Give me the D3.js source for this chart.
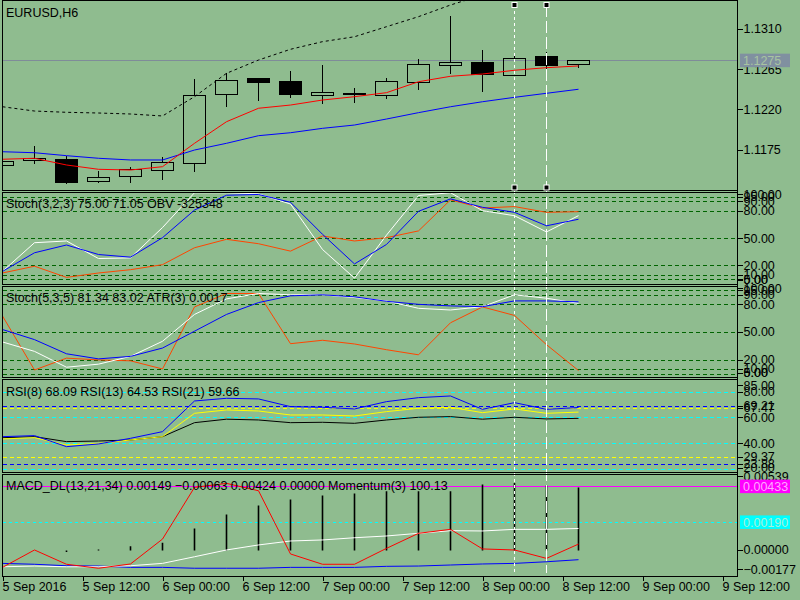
<!DOCTYPE html>
<html>
<head>
<meta charset="utf-8">
<title>EURUSD,H6</title>
<script src="https://d3js.org/d3.v7.min.js"></script>
<style>
  body { margin: 0; background: #8fbc8f; }
  svg { display: block; }
  text { font-family: "Liberation Sans", Arial, sans-serif; font-size: 12.5px; fill: #000; }
</style>
</head>
<body>
<div id="chart"></div>
<script>
// ---- bars ----
var opens  = [1.11578,1.11636,1.11650,1.11400,1.11460,1.11522,1.11605,1.12375,1.12546,1.12523,1.12364,1.12389,1.12359,1.12509,1.12698,1.12735,1.12582,1.12791,1.12710];
var highs  = [1.11630,1.11798,1.11690,1.11522,1.11567,1.11679,1.12546,1.12609,1.12550,1.12635,1.12702,1.12442,1.12557,1.12769,1.13248,1.12869,1.12802,1.12850,1.12757];
var lows   = [1.11570,1.11592,1.11374,1.11389,1.11389,1.11419,1.11511,1.12236,1.12303,1.12337,1.12263,1.12274,1.12326,1.12423,1.12601,1.12404,1.12575,1.12627,1.12672];
var closes = [1.11623,1.11656,1.11389,1.11449,1.11538,1.11616,1.12364,1.12531,1.12509,1.12370,1.12397,1.12367,1.12520,1.12710,1.12735,1.12593,1.12776,1.12694,1.12748];

// main window lines
var maFast   = [1.11650,1.11661,1.11586,1.11538,1.11530,1.11567,1.11828,1.12069,1.12219,1.12255,1.12311,1.12348,1.12393,1.12515,1.12576,1.12601,1.12643,1.12672,1.12691];
var maSlow   = [1.11734,1.11723,1.11690,1.11661,1.11642,1.11642,1.11753,1.11828,1.11913,1.11946,1.11995,1.12032,1.12099,1.12170,1.12236,1.12292,1.12341,1.12386,1.12431];
var envUpper = [1.12236,1.12188,1.12174,1.12166,1.12155,1.12133,1.12348,1.12609,1.12757,1.12877,1.12962,1.13017,1.13129,1.13241,1.13371,1.13483];
var bidPrice = 1.1275;
var priceTicks = [1.1310, 1.1265, 1.1220, 1.1175];

// Stoch(3,2,3) + OBV window
var st1Main   = [14.1,45.4,47.3,28.1,28.8,62.0,100,100,98.8,87.7,38.0,6.7,53.7,97.0,100,80.4,74.9,57.2,75.00];
var st1Signal = [14.1,34.4,42.9,32.5,29.6,50.9,81.1,97.3,98.1,89.6,54.6,22.2,43.5,79.7,93.3,84.1,78.6,63.9,71.05];
var obvLine   = [12.3,19.7,7.5,12.3,15.9,21.4,39.9,49.1,44.3,36.2,52.8,47.3,50.9,58.3,92.2,83.3,84.9,78.6,79.3];
var obvValue = -325348;

// Stoch(5,3,5) + ATR window
var st2Main   = [39.7,29.5,12.4,15.7,24.1,40.4,69.4,86.2,92.0,90.6,90.6,87.6,84.0,76.0,74.2,77.8,90.6,86.9,81.34];
var st2Signal = [53.1,42.2,26.9,21.4,24.1,33.1,51.3,69.4,82.2,89.5,90.6,88.4,83.6,80.3,78.6,77.8,84.0,84.0,83.02];
var atrLine   = [67.7,9.4,22.2,20.3,19.3,10.5,77.5,92.0,92.0,37.8,41.5,37.5,31.3,25.8,60.4,77.5,68.3,36.7,8.8];
var atrValue = "0.0017";
var stochLevels = [5, 10, 20, 50, 80, 90, 95];
var stochTicks = [0, 5, 10, 20, 50, 80, 90, 95, 100];

// RSI window
var rsi8  = [45.4,46.2,37.6,39.7,44.1,49.3,73.2,75.3,74.8,68.8,68.3,67.0,72.7,75.8,77.1,66.7,71.9,66.7,68.09];
var rsi13 = [43.6,44.6,38.9,40.2,42.8,45.4,63.6,66.2,65.4,62.3,62.3,61.5,64.9,67.5,68.3,64.1,67.0,63.6,64.53];
var rsi21 = [44.6,45.4,41.5,42.0,42.8,45.4,56.3,59.0,58.4,56.3,56.6,55.8,58.4,60.5,61.0,59.0,60.5,59.2,59.66];
var rsiCyanLevels = [20, 40, 60, 80];
var rsiBlueLevels = [23.88, 69.21];
var rsiYellowLevels = [29.37, 67.47];
var rsiTicks = [20, 23.88, 29.37, 40, 60, 67.47, 69.21, 80, 85];

// MACD_DL + Momentum window
var macdHist   = [0,0,-0.00008,0.00003,0.00025,0.00048,0.00145,0.00240,0.00302,0.00342,0.00369,0.00383,0.00398,0.00398,0.00398,0.00444,0.00455,0.00437,0.00424];
var macdMain   = [-0.00111,-0.00106,-0.00111,-0.00111,-0.00104,-0.00088,-0.00043,0.00003,0.00037,0.00064,0.00071,0.00086,0.00098,0.00116,0.00134,0.00132,0.00143,0.00143,0.00149];
var macdSignal = [-0.00088,-0.00094,-0.00104,-0.00106,-0.00115,-0.00115,-0.00121,-0.00121,-0.00121,-0.00115,-0.00115,-0.00115,-0.00108,-0.00106,-0.00099,-0.00092,-0.00088,-0.00077,-0.00063];
var momentum   = [-0.00115,0.00003,-0.00094,-0.00121,-0.00092,0.00077,0.00428,0.00455,0.00405,-0.00024,-0.00094,-0.00094,0.00014,0.00116,0.00143,0.00010,0.00003,-0.00054,0.00043];
var momentumValue = "100.13";
var macdTicks = [-0.00177, 0, 0.00539];
var macdMagentaLevel = 0.00433;
var macdCyanLevel = 0.00190;

// time axis
var timeStart = new Date(Date.UTC(2016, 8, 5, 0));
var timeEnd   = new Date(Date.UTC(2016, 8, 9, 12));
var markedBars = [16, 17];

// ---- layout ----
var width = 800, height = 600;
var plotLeft = 2.5, plotRight = 737.5;
var bg = "#8fbc8f";

var svg = d3.select("#chart").append("svg")
    .attr("width", width)
    .attr("height", height);

svg.append("rect").attr("width", width).attr("height", height).attr("fill", bg);

var panels = {
  main: {top: 0.5, bottom: 190.5},
  st1:  {top: 192.5, bottom: 284.5},
  st2:  {top: 286.5, bottom: 377.5},
  rsi:  {top: 379.5, bottom: 472.5},
  macd: {top: 474.5, bottom: 576.5}
};

// scales
var x = d3.scaleLinear().domain([0, 18]).range([2.5, 578.5]);
var xTime = d3.scaleUtc().domain([timeStart, timeEnd]).range([2.5, 722.5]);
var yMain = d3.scaleLinear().domain([1.1175, 1.1310]).range([150.3, 29.3]);
var ySt1  = d3.scaleLinear().domain([0, 100]).range([284.25, 192.75]);
var ySt2  = d3.scaleLinear().domain([0, 100]).range([378.7, 286.1]);
var yRsi  = d3.scaleLinear().domain([0, 100]).range([494.9, 366.6]);
var yMacd = d3.scaleLinear().domain([-0.00177, 0.00539]).range([576.5, 471]);

function panelGroup(id) {
  var p = panels[id];
  svg.append("clipPath").attr("id", "clip-" + id)
    .append("rect")
      .attr("x", plotLeft).attr("y", p.top)
      .attr("width", plotRight - plotLeft).attr("height", p.bottom - p.top);
  return svg.append("g").attr("clip-path", "url(#clip-" + id + ")");
}

function drawLine(g, values, y, color, dash) {
  g.append("path")
    .datum(values)
    .attr("fill", "none")
    .attr("stroke", color)
    .attr("stroke-width", 1)
    .attr("stroke-dasharray", dash || null)
    .attr("d", d3.line().x(function(d, i) { return x(i); }).y(function(d) { return y(d); }));
}

function drawLevels(g, values, y, color, dash) {
  g.selectAll(null)
    .data(values)
    .enter()
    .append("line")
      .attr("x1", plotLeft).attr("x2", plotRight)
      .attr("y1", function(d) { return y(d); })
      .attr("y2", function(d) { return y(d); })
      .attr("stroke", color)
      .attr("stroke-dasharray", dash || "4,3")
      .attr("shape-rendering", "crispEdges");
}

function rightAxis(id, y, values, fmt, padTop, padBottom) {
  var p = panels[id];
  var g = svg.append("g")
    .attr("transform", "translate(" + plotRight + ",0)")
    .call(d3.axisRight(y).tickValues(values).tickSize(5).tickPadding(1).tickFormat(fmt));
  g.select(".domain").remove();
  g.attr("font-family", null).attr("font-size", null);
  g.selectAll(".tick line").attr("stroke", "#000").attr("shape-rendering", "crispEdges");
  // keep labels inside their window, as the terminal does
  g.selectAll(".tick").attr("transform", function(d) {
    var yy = Math.max(p.top + padTop, Math.min(p.bottom - padBottom, y(d)));
    return "translate(0," + yy + ")";
  });
  return g;
}

function valueBox(y, label, fill, textColor) {
  var g = svg.append("g").attr("transform", "translate(0," + y + ")");
  g.append("rect")
    .attr("x", 740).attr("y", -7)
    .attr("width", 50).attr("height", 13.5)
    .attr("fill", fill);
  g.append("text")
    .attr("x", 743).attr("y", 4.5)
    .style("fill", textColor)
    .text(label);
}

// ---- main window ----
var gMain = panelGroup("main");

gMain.append("line")
  .attr("x1", plotLeft).attr("x2", plotRight)
  .attr("y1", yMain(bidPrice)).attr("y2", yMain(bidPrice))
  .attr("stroke", "#7f8c99")
  .attr("shape-rendering", "crispEdges");

var idx = d3.range(opens.length);

gMain.selectAll(".wick")
  .data(idx)
  .enter()
  .append("path")
    .attr("class", "wick")
    .attr("stroke", "#000")
    .attr("shape-rendering", "crispEdges")
    .attr("d", function(i) {
      var top = Math.max(opens[i], closes[i]);
      var bot = Math.min(opens[i], closes[i]);
      return "M" + x(i) + "," + yMain(highs[i]) + "V" + yMain(top) +
             "M" + x(i) + "," + yMain(bot) + "V" + yMain(lows[i]);
    });

gMain.selectAll(".body")
  .data(idx)
  .enter()
  .append("rect")
    .attr("class", "body")
    .attr("x", function(i) { return x(i) - 11; })
    .attr("width", 22)
    .attr("y", function(i) { return yMain(Math.max(opens[i], closes[i])); })
    .attr("height", function(i) { return Math.max(1, Math.abs(yMain(opens[i]) - yMain(closes[i]))); })
    .attr("fill", function(i) { return closes[i] >= opens[i] ? "none" : "#000"; })
    .attr("stroke", "#000")
    .attr("shape-rendering", "crispEdges");

drawLine(gMain, envUpper, yMain, "#000", "3,3");
drawLine(gMain, maSlow, yMain, "#0000ff");
drawLine(gMain, maFast, yMain, "#ff0000");

// ---- Stoch(3,2,3) / OBV ----
var gSt1 = panelGroup("st1");
drawLevels(gSt1, stochLevels, ySt1, "#006400");
drawLine(gSt1, obvLine, ySt1, "#ff4500");
drawLine(gSt1, st1Main, ySt1, "#ffffff");
drawLine(gSt1, st1Signal, ySt1, "#0000ff");

// ---- Stoch(5,3,5) / ATR ----
var gSt2 = panelGroup("st2");
drawLevels(gSt2, stochLevels, ySt2, "#006400");
drawLine(gSt2, atrLine, ySt2, "#ff4500");
drawLine(gSt2, st2Main, ySt2, "#ffffff");
drawLine(gSt2, st2Signal, ySt2, "#0000ff");

// ---- RSI ----
var gRsi = panelGroup("rsi");
drawLevels(gRsi, rsiCyanLevels, yRsi, "#00ffff");
drawLevels(gRsi, rsiBlueLevels, yRsi, "#0000ff");
drawLevels(gRsi, rsiYellowLevels, yRsi, "#ffff00");
drawLine(gRsi, rsi21, yRsi, "#000000");
drawLine(gRsi, rsi13, yRsi, "#ffff00");
drawLine(gRsi, rsi8, yRsi, "#0000ff");

// ---- MACD / Momentum ----
var gMacd = panelGroup("macd");
gMacd.append("line")
  .attr("x1", plotLeft).attr("x2", plotRight)
  .attr("y1", yMacd(macdMagentaLevel)).attr("y2", yMacd(macdMagentaLevel))
  .attr("stroke", "#ff00ff")
  .attr("shape-rendering", "crispEdges");
drawLevels(gMacd, [macdCyanLevel], yMacd, "#00ffff", "3,3");

gMacd.selectAll(".hist")
  .data(macdHist)
  .enter()
  .append("line")
    .attr("class", "hist")
    .attr("x1", function(d, i) { return x(i); })
    .attr("x2", function(d, i) { return x(i); })
    .attr("y1", yMacd(0))
    .attr("y2", function(d) { return d === 0 ? yMacd(0) : yMacd(d) + (d < 0 ? 1 : -1) * 0.5; })
    .attr("stroke", "#000")
    .attr("stroke-width", 1.6);

drawLine(gMacd, macdSignal, yMacd, "#0000ff");
drawLine(gMacd, macdMain, yMacd, "#ffffff");
drawLine(gMacd, momentum, yMacd, "#ff0000");

// ---- marked bars (vertical lines across all windows) ----
var vDash = ["3,3", "12,4"];
markedBars.forEach(function(b, k) {
  svg.append("line")
    .attr("x1", x(b)).attr("x2", x(b))
    .attr("y1", 5).attr("y2", 573)
    .attr("stroke", "#ffffff")
    .attr("stroke-dasharray", vDash[k])
    .attr("shape-rendering", "crispEdges");
});

// ---- window frames ----
Object.keys(panels).forEach(function(id) {
  var p = panels[id];
  svg.append("rect")
    .attr("x", plotLeft).attr("y", p.top)
    .attr("width", plotRight - plotLeft).attr("height", p.bottom - p.top)
    .attr("fill", "none")
    .attr("stroke", "#000")
    .attr("shape-rendering", "crispEdges");
});
svg.append("line")
  .attr("x1", plotRight).attr("x2", plotRight)
  .attr("y1", 0).attr("y2", panels.macd.bottom)
  .attr("stroke", "#000")
  .attr("shape-rendering", "crispEdges");

// handles of the selected vertical lines
markedBars.forEach(function(b) {
  [5, 187.5].forEach(function(yy) {
    svg.append("rect")
      .attr("x", x(b) - 2.5).attr("y", yy - 2.5)
      .attr("width", 5).attr("height", 5)
      .attr("fill", "#000").attr("stroke", "#fff");
  });
});

// ---- price axes ----
rightAxis("main", yMain, priceTicks, d3.format(".4f"), 2, 7);
rightAxis("st1", ySt1, stochTicks, d3.format(".2f"), 2, 4.5);
rightAxis("st2", ySt2, stochTicks, d3.format(".2f"), 2, 4.5);
rightAxis("rsi", yRsi, rsiTicks, d3.format(".2f"), 2, 4.5);
rightAxis("macd", yMacd, macdTicks, d3.format(".5f"), 2, 7);

valueBox(yMain(bidPrice), d3.format(".4f")(bidPrice), "#8090a0", "#a8c4a0");
valueBox(yMacd(macdMagentaLevel), d3.format(".5f")(macdMagentaLevel), "#ff00ff", "#ffa8ff");
valueBox(yMacd(macdCyanLevel), d3.format(".5f")(macdCyanLevel), "#00ffff", "#a8f0d8");

// ---- time axis ----
var fmtFirst = d3.utcFormat("%-d %b %Y");
var fmtRest = d3.utcFormat("%-d %b %H:%M");
var gx = svg.append("g")
  .attr("transform", "translate(0," + panels.macd.bottom + ")")
  .call(d3.axisBottom(xTime)
    .ticks(d3.utcHour.every(12))
    .tickSize(4)
    .tickPadding(2)
    .tickFormat(function(d, i) { return i === 0 ? fmtFirst(d) : fmtRest(d); }));
gx.select(".domain").remove();
gx.attr("font-family", null).attr("font-size", null);
gx.selectAll(".tick line").attr("stroke", "#000").attr("shape-rendering", "crispEdges");
gx.selectAll(".tick text").attr("text-anchor", "start").attr("x", -0.5);

// ---- window titles ----
var f2 = d3.format(".2f"), f5 = d3.format(".5f");
var last = opens.length - 1;
var titles = [
  {y: 12, text: "EURUSD,H6"},
  {y: 203, text: "Stoch(3,2,3) " + f2(st1Main[last]) + " " + f2(st1Signal[last]) + " OBV " + obvValue},
  {y: 297, text: "Stoch(5,3,5) " + f2(st2Main[last]) + " " + f2(st2Signal[last]) + " ATR(3) " + atrValue},
  {y: 391, text: "RSI(8) " + f2(rsi8[last]) + " RSI(13) " + f2(rsi13[last]) + " RSI(21) " + f2(rsi21[last])},
  {y: 485, text: "MACD_DL(13,21,34) " + f5(macdMain[last]) + " " + f5(macdSignal[last]) + " " +
                 f5(macdHist[last]) + " " + f5(0) + " Momentum(3) " + momentumValue}
];
svg.selectAll(".title")
  .data(titles)
  .enter()
  .append("text")
    .attr("class", "title")
    .attr("x", 6)
    .attr("y", function(d) { return d.y + 4.5; })
    .text(function(d) { return d.text; });
</script>
</body>
</html>
